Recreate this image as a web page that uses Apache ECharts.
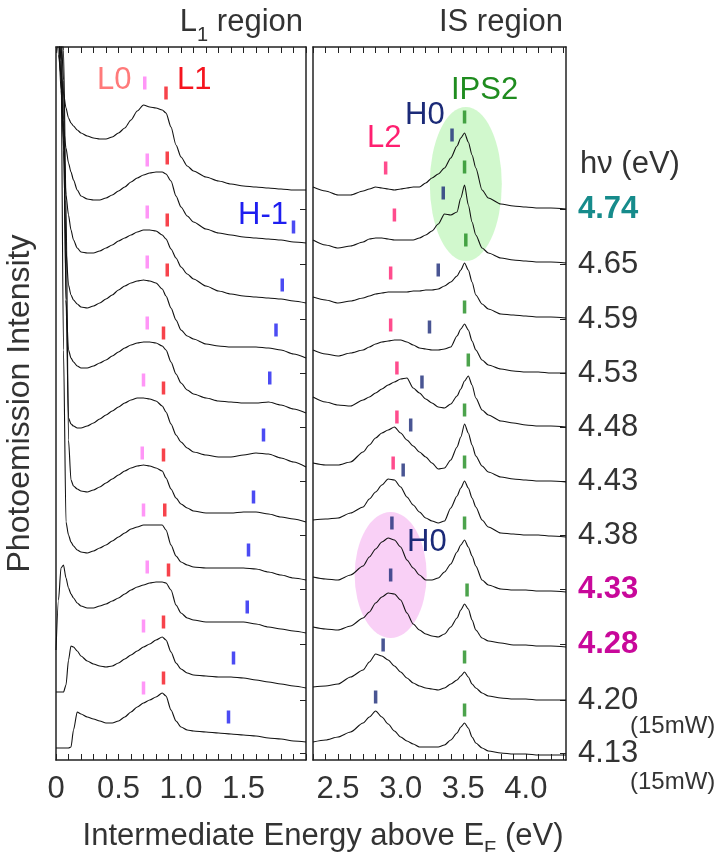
<!DOCTYPE html>
<html>
<head>
<meta charset="utf-8">
<script src="https://cdn.jsdelivr.net/npm/echarts@6/dist/echarts.min.js"></script>
<style>
html,body{margin:0;padding:0;background:#fff}
#chart{width:721px;height:852px}
</style>
</head>
<body>
<div id="chart"></div>
<script>
// photon energies (top to bottom) and where their labels sit on the offset intensity scale
var photonEnergy = ['4.74','4.65','4.59','4.53','4.48','4.43','4.38','4.33','4.28','4.20','4.13'];
var photonLabelPos = [56.5,51.0,45.5,40.1,34.7,29.3,23.9,18.5,13.0,7.4,2.1];
var photonHighlight = {'4.74':'teal','4.33':'mag','4.28':'mag'};

// tick labels
var ticksL1 = [0,0.5,1.0,1.5];
var ticksIS = [2.5,3.0,3.5,4.0];

// L1 region spectra (offset intensity, arb. units)
var energyL1 = [0,0.02,0.04,0.06,0.08,0.1,0.12,0.14,0.17,0.2,0.25,0.3,0.35,0.4,0.45,0.5,0.55,0.6,0.65,0.7,0.75,0.8,0.85,0.88,0.92,0.96,1.0,1.05,1.1,1.2,1.3,1.4,1.5,1.6,1.7,1.8,1.9,2.0];
var specL1_474 = [75.4,71.9,69.9,68.1,66.6,65.6,65.1,64.8,64.4,64.1,63.8,63.6,63.5,63.5,63.7,64.1,64.6,65.4,66.3,66.9,66.7,66.6,66.4,66.1,64.7,62.9,61.7,60.8,60.3,59.7,59.3,59.0,58.8,58.7,58.6,58.5,58.4,58.4];
var specL1_465 = [75.4,73.4,68.4,64.6,62.6,61.1,60.2,59.4,58.4,57.8,57.5,57.4,57.4,57.6,57.9,58.3,58.7,59.2,59.6,59.9,60.1,60.2,60.2,60.0,59.3,57.8,56.7,55.8,55.2,54.5,54.1,53.9,53.7,53.6,53.5,53.4,53.2,53.1];
var specL1_459 = [75.4,74.4,69.4,63.4,57.9,55.9,54.4,53.4,52.6,52.2,52.1,52.1,52.3,52.6,52.9,53.3,53.6,53.9,54.2,54.4,54.4,54.3,53.9,53.5,52.5,51.6,50.7,50.0,49.5,48.8,48.3,48.0,47.8,47.7,47.6,47.5,47.3,47.1];
var specL1_453 = [75.4,74.9,71.4,62.4,52.4,48.9,47.9,47.4,47.0,46.7,46.6,46.8,47.1,47.5,47.9,48.4,48.8,49.1,49.3,49.4,49.3,49.1,48.5,47.8,46.6,45.4,44.4,43.8,43.5,43.0,42.8,42.7,42.7,42.7,42.6,42.4,42.0,41.6];
var specL1_448 = [75.4,75.2,73.4,65.4,47.4,42.4,41.6,41.2,40.8,40.6,40.6,40.8,41.1,41.4,41.8,42.2,42.6,42.9,43.1,43.2,43.2,43.1,42.8,42.4,41.2,40.0,39.1,38.4,38.0,37.6,37.3,37.2,37.1,37.1,37.2,36.9,36.5,36.1];
var specL1_443 = [75.4,75.2,74.4,69.4,47.4,35.6,35.0,34.8,34.6,34.6,34.8,35.1,35.5,35.9,36.3,36.7,37.1,37.4,37.6,37.6,37.5,37.3,36.8,36.2,35.0,33.9,33.2,32.6,32.2,31.9,31.7,31.7,31.9,32.1,32.0,31.6,31.2,30.7];
var specL1_438 = [75.4,75.2,74.9,72.4,57.4,33.4,29.4,28.8,28.5,28.3,28.2,28.4,28.7,29.1,29.5,29.9,30.3,30.6,30.8,30.9,30.8,30.6,30.3,29.6,28.5,27.6,27.0,26.6,26.3,26.1,26.1,26.1,26.2,26.2,26.0,25.7,25.5,25.2];
var specL1_433 = [75.4,75.2,71.4,42.4,25.2,23.9,23.2,22.8,22.4,22.2,22.1,22.3,22.6,22.9,23.3,23.7,24.1,24.5,24.7,24.9,24.9,24.9,24.9,24.4,22.9,21.8,21.2,20.9,20.7,20.6,20.6,20.6,20.6,20.5,20.2,19.9,19.6,19.4];
var specL1_428 = [12.4,17.4,20.6,20.9,19.6,18.6,18.0,17.6,17.1,16.8,16.6,16.6,16.8,17.0,17.3,17.6,18.0,18.4,18.7,18.9,19.1,19.2,19.2,19.1,18.4,16.9,16.1,15.6,15.4,15.2,15.2,15.2,15.2,15.0,14.7,14.5,14.3,14.1];
var specL1_420 = [8.2,8.2,8.2,8.2,8.9,11.4,12.8,12.7,12.3,11.8,11.3,11.0,10.8,10.7,10.8,11.1,11.5,11.9,12.3,12.7,13.0,13.4,13.7,13.4,12.2,11.1,10.5,10.1,9.9,9.8,9.7,9.7,9.6,9.4,9.2,9.0,8.8,8.6];
var specL1_413 = [2.6,2.6,2.6,2.6,2.6,2.6,2.7,4.4,6.2,6.0,5.7,5.5,5.3,5.1,5.1,5.3,5.7,6.2,6.7,7.1,7.4,7.7,8.1,7.8,6.4,5.3,4.7,4.4,4.3,4.2,4.1,4.0,3.9,3.8,3.6,3.5,3.3,3.2];

// IS region spectra
var energyIS = [2.3,2.4,2.5,2.6,2.7,2.75,2.8,2.85,2.9,2.95,3.0,3.05,3.1,3.15,3.2,3.25,3.3,3.35,3.4,3.45,3.48,3.51,3.54,3.57,3.6,3.65,3.7,3.8,3.9,4.0,4.1,4.2,4.32];
var specIS_474 = [58.7,58.3,57.9,57.9,58.3,58.5,58.7,58.6,58.5,58.4,58.5,58.6,58.7,58.7,59.1,59.6,60.0,60.6,61.6,62.8,63.6,64.1,63.2,61.9,60.6,58.4,57.6,57.0,56.8,56.7,56.6,56.6,56.5];
var specIS_465 = [53.4,52.9,52.6,52.8,53.2,53.5,53.6,53.6,53.5,53.4,53.4,53.4,53.4,53.6,53.9,54.3,55.0,56.0,55.9,56.2,57.6,58.9,56.9,55.2,53.9,52.6,52.1,51.6,51.4,51.3,51.2,51.2,51.1];
var specIS_459 = [47.7,47.4,47.1,47.3,47.6,47.8,48.0,48.1,48.2,48.2,48.2,48.2,48.3,48.3,48.4,48.4,48.5,48.8,49.2,49.8,50.4,51.1,50.4,49.2,47.9,47.0,46.5,46.0,45.9,45.8,45.7,45.7,45.6];
var specIS_453 = [42.4,42.0,41.8,42.1,42.4,42.7,43.0,43.2,43.3,43.4,43.4,43.2,42.9,42.6,42.5,42.4,42.4,42.5,42.7,43.8,44.5,45.0,44.4,43.3,42.4,41.4,40.9,40.5,40.3,40.2,40.2,40.1,40.1];
var specIS_448 = [37.7,37.2,36.9,36.8,37.4,37.7,38.1,38.5,38.9,39.2,39.5,39.6,38.6,38.1,37.5,37.1,36.7,36.6,37.0,37.8,38.5,39.3,39.8,38.9,37.6,36.4,35.9,35.3,35.1,34.9,34.8,34.8,34.7];
var specIS_443 = [31.1,30.9,30.9,31.2,32.2,32.9,33.6,34.1,34.4,34.7,34.1,33.4,32.8,32.2,31.7,31.1,30.5,30.6,31.4,32.7,33.7,35.0,34.1,32.9,31.8,30.8,30.2,29.7,29.5,29.4,29.3,29.3,29.2];
var specIS_438 = [25.4,25.5,25.6,26.1,26.7,27.5,28.2,28.9,29.5,29.4,28.7,27.7,26.9,26.2,25.6,25.3,25.1,25.3,26.6,27.8,28.6,29.3,28.6,27.6,26.7,25.4,24.7,24.1,24.0,23.9,23.9,23.8,23.7];
var specIS_433 = [19.7,19.5,19.4,19.9,20.8,21.7,22.5,23.2,23.6,23.4,22.7,21.4,20.6,19.9,19.4,19.4,19.6,20.2,21.0,22.2,22.9,23.4,22.7,21.8,20.8,19.4,18.9,18.5,18.4,18.4,18.3,18.3,18.2];
var specIS_428 = [14.7,14.5,14.4,14.8,15.6,16.2,17.1,17.7,18.1,18.0,17.4,16.1,15.0,14.4,14.0,13.8,13.7,14.0,14.7,15.6,16.4,17.0,16.5,15.4,14.4,13.6,13.3,13.1,12.9,12.9,12.8,12.8,12.7];
var specIS_420 = [8.7,8.8,9.0,9.7,10.4,11.2,12.0,11.8,11.4,10.8,10.2,9.6,9.1,8.8,8.6,8.5,8.4,8.6,9.0,9.4,9.8,10.2,9.7,9.0,8.6,8.1,7.8,7.6,7.5,7.5,7.4,7.4,7.4];
var specIS_413 = [3.2,3.4,3.7,4.2,5.1,5.7,6.3,5.7,5.0,4.3,3.7,3.3,3.0,2.7,2.7,2.7,2.7,2.9,3.4,4.1,4.7,5.1,4.6,3.7,3.1,2.6,2.3,2.1,2.0,2.0,1.9,1.9,1.9];

// peak markers [energy, offset intensity]
var markL0 = [[0.71,69.1],[0.73,61.4],[0.73,56.2],[0.73,51.2],[0.73,45.1],[0.70,39.4],[0.69,32.1],[0.70,26.4],[0.73,20.7],[0.70,14.8],[0.70,8.6]];
var markL1 = [[0.88,68.1],[0.89,61.6],[0.89,55.4],[0.89,50.4],[0.86,44.1],[0.86,38.6],[0.86,31.9],[0.87,26.4],[0.90,20.4],[0.86,15.2],[0.86,9.6]];
var markH1 = [[1.90,54.7],[1.81,48.9],[1.76,44.4],[1.71,39.6],[1.66,33.9],[1.58,27.7],[1.54,22.4],[1.53,16.7],[1.42,11.6],[1.38,5.7]];
var markL2 = [[2.88,60.6],[2.95,55.9],[2.92,50.1],[2.92,44.9],[2.97,40.6],[2.97,35.7],[2.94,31.1]];
var markH0 = [[3.41,63.9],[3.34,58.1],[3.30,50.4],[3.23,44.7],[3.17,39.2],[3.08,34.9],[3.02,30.4],[2.93,25.1],[2.92,19.9],[2.86,12.9],[2.80,7.7]];
var markIPS2 = [[3.51,65.7],[3.51,60.7],[3.52,53.4],[3.51,46.7],[3.54,41.4],[3.51,36.4],[3.51,31.2],[3.51,25.1],[3.53,18.4],[3.51,11.7],[3.51,6.4]];
// highlighted areas
var spotIPS2 = [3.52,59.0];
var spotH0 = [2.92,19.9];

var spectraL1 = [specL1_474,specL1_465,specL1_459,specL1_453,specL1_448,specL1_443,specL1_438,specL1_433,specL1_428,specL1_420,specL1_413];
var spectraIS = [specIS_474,specIS_465,specIS_459,specIS_453,specIS_448,specIS_443,specIS_438,specIS_433,specIS_428,specIS_420,specIS_413];

var FONT = "'Liberation Sans', Arial, sans-serif";
var INK = '#333';
var YMIN = 1.4, YMAX = 72.7;

var minorL1 = [], minorIS = [];
for (var i = 0; i <= 20; i++) minorL1.push(+(i / 10).toFixed(1));
for (var j = 23; j <= 43; j++) minorIS.push(+(j / 10).toFixed(1));

function xAx(grid, pos, min, max, minor, labels) {
    return {
        type: 'value', gridIndex: grid, position: pos, min: min, max: max,
        axisLine: { show: true, onZero: false, lineStyle: { color: '#222', width: 1.5 } },
        axisTick: { show: true, inside: true, length: 6, customValues: minor, lineStyle: { color: '#222' } },
        axisLabel: {
            show: pos === 'bottom', customValues: labels, margin: 14,
            fontSize: 31, fontFamily: FONT, color: INK,
            formatter: function (v) { return v === 0 ? '0' : v.toFixed(1); }
        },
        splitLine: { show: false }
    };
}
function yAx(grid, pos, ticks) {
    return {
        type: 'value', gridIndex: grid, position: pos, min: YMIN, max: YMAX,
        axisLine: { show: true, onZero: false, lineStyle: { color: '#222', width: 1.5 } },
        axisTick: { show: !!ticks, inside: true, length: 6, customValues: ticks, lineStyle: { color: '#222' } },
        axisLabel: { show: false },
        splitLine: { show: false }
    };
}

var yAxes = [yAx(0, 'left'), yAx(0, 'right', photonLabelPos), yAx(1, 'left'), yAx(1, 'right', photonLabelPos)];
yAxes[0].name = 'Photoemission Intensity';
yAxes[0].nameLocation = 'middle';
yAxes[0].nameGap = 20;
yAxes[0].nameTextStyle = { fontSize: 32, fontFamily: FONT, color: INK };
yAxes[3].axisLabel = {
    show: true, customValues: photonLabelPos, margin: 12,
    fontSize: 31, fontFamily: FONT, color: INK,
    formatter: function (v) {
        var k = photonLabelPos.findIndex(function (p) { return Math.abs(p - v) < 1e-6; });
        var s = photonEnergy[k];
        return photonHighlight[s] ? '{' + photonHighlight[s] + '|' + s + '}' : s;
    },
    rich: {
        teal: { color: '#168b8b', fontWeight: 'bold', fontSize: 31, fontFamily: FONT },
        mag: { color: '#c8089a', fontWeight: 'bold', fontSize: 31, fontFamily: FONT }
    }
};

var series = [];
function pairs(xs, ys) { return xs.map(function (x, k) { return [x, ys[k]]; }); }
spectraL1.forEach(function (s) {
    series.push({ type: 'line', xAxisIndex: 0, yAxisIndex: 0, data: pairs(energyL1, s), symbol: 'none',
        smooth: 0.25, smoothMonotone: 'x', lineStyle: { color: '#111', width: 1.1 }, z: 3, silent: true });
});
spectraIS.forEach(function (s) {
    series.push({ type: 'line', xAxisIndex: 2, yAxisIndex: 2, data: pairs(energyIS, s), symbol: 'none',
        smooth: 0.25, smoothMonotone: 'x', lineStyle: { color: '#111', width: 1.1 }, z: 3, silent: true });
});
function marks(pts, color, ax) {
    return { type: 'scatter', xAxisIndex: ax, yAxisIndex: ax, data: pts, symbol: 'rect',
        symbolSize: [3.5, 13], itemStyle: { color: color }, z: 4, silent: true };
}
series.push(marks(markL0, '#ff7cf5', 0));
series.push(marks(markL1, '#f5141e', 0));
series.push(marks(markH1, '#1e1ef0', 0));
series.push(marks(markL2, '#ff1f70', 2));
series.push(marks(markH0, '#1b2a78', 2));
series.push(marks(markIPS2, '#1f8c1f', 2));
series.push({ type: 'scatter', xAxisIndex: 2, yAxisIndex: 2, data: [spotIPS2], symbol: 'circle',
    symbolSize: [72, 154], itemStyle: { color: '#c6f6c1' }, z: 1, silent: true });
series.push({ type: 'scatter', xAxisIndex: 2, yAxisIndex: 2, data: [spotH0], symbol: 'circle',
    symbolSize: [72, 126], itemStyle: { color: '#f8c4f4' }, z: 1, silent: true });

function txt(x, y, text, color, size, align) {
    return { type: 'text', x: x, y: y, z: 10, silent: true,
        style: { text: text, fill: color, fontSize: size || 31, fontFamily: FONT,
            align: align || 'left', verticalAlign: 'middle' } };
}
function subTxt(x, y, text, align) {
    return { type: 'text', x: x, y: y, z: 10, silent: true,
        style: { text: text, align: align, verticalAlign: 'middle',
            rich: {
                m: { fontSize: 31, fontFamily: FONT, fill: INK, lineHeight: 34, verticalAlign: 'top' },
                s: { fontSize: 20, fontFamily: FONT, fill: INK, lineHeight: 22, padding: [18, 0, 0, 0], verticalAlign: 'top' }
            } } };
}

var chart = echarts.init(document.getElementById('chart'));
chart.setOption({
    animation: false,
    backgroundColor: '#fff',
    grid: [
        { left: 56, top: 47, width: 250, height: 713 },
        { left: 313, top: 47, width: 253, height: 713 }
    ],
    xAxis: [
        xAx(0, 'bottom', 0, 2.0, minorL1, ticksL1),
        xAx(0, 'top', 0, 2.0, minorL1, ticksL1),
        xAx(1, 'bottom', 2.3, 4.32, minorIS, ticksIS),
        xAx(1, 'top', 2.3, 4.32, minorIS, ticksIS)
    ],
    yAxis: yAxes,
    series: series,
    graphic: [
        subTxt(303, 24, '{m|L}{s|1}{m| region}', 'right'),
        subTxt(563, 24, '{m|IS region}', 'right'),
        txt(97, 80, 'L0', '#ff7a7a'),
        txt(177, 80, 'L1', '#f5141e'),
        txt(238, 215, 'H-1', '#1e1ef0'),
        txt(367, 138, 'L2', '#ff1f70'),
        txt(405, 115, 'H0', '#1b2a78'),
        txt(451, 90, 'IPS2', '#1f8c1f'),
        txt(407, 542, 'H0', '#1b2a78'),
        txt(580, 164, 'h\u03bd (eV)', INK),
        txt(630, 726, '(15mW)', INK, 24),
        txt(630, 782, '(15mW)', INK, 24),
        subTxt(323, 838, '{m|Intermediate Energy above E}{s|F}{m| (eV)}', 'center')
    ]
});
</script>
</body>
</html>
